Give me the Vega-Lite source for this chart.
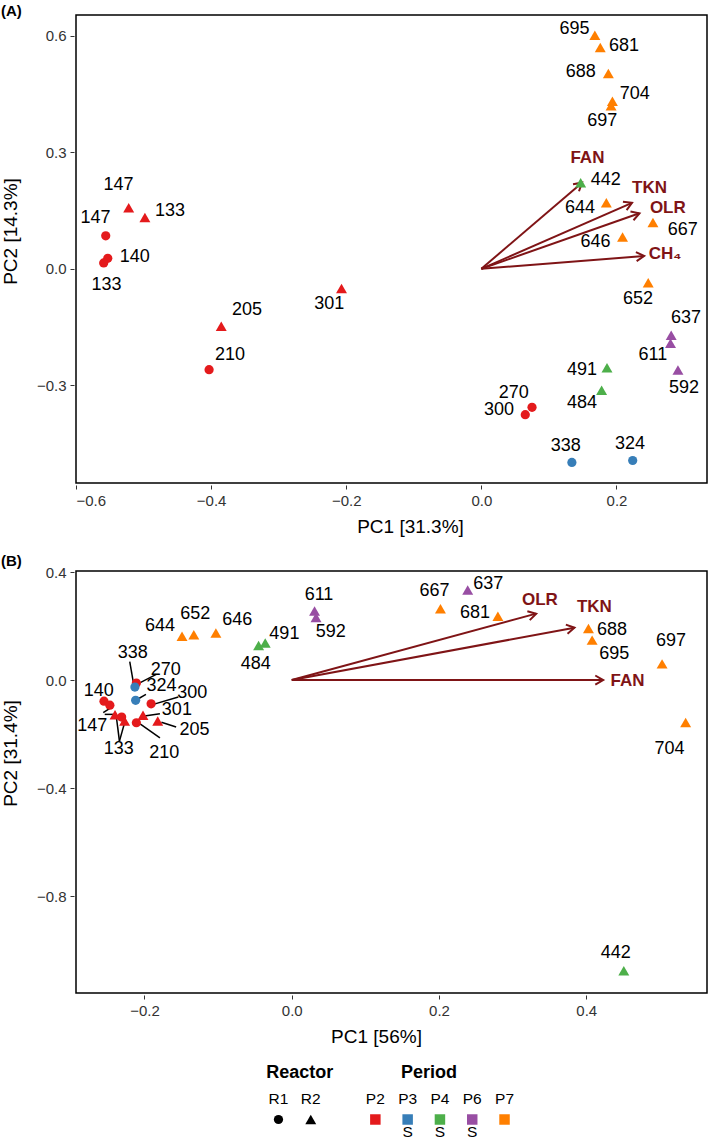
{
  "$schema": "https://vega.github.io/schema/vega-lite/v6.json",
  "padding": {"left": 0, "top": 3, "right": 1, "bottom": 0},
  "background": "white",
  "datasets": {
    "pointsA": [
      {"day": "695", "reactor": "R2", "period": "P7", "x": 0.168, "y": 0.602, "lx": 0.138, "ly": 0.617},
      {"day": "681", "reactor": "R2", "period": "P7", "x": 0.176, "y": 0.570, "lx": 0.211, "ly": 0.573},
      {"day": "688", "reactor": "R2", "period": "P7", "x": 0.188, "y": 0.503, "lx": 0.147, "ly": 0.506},
      {"day": "704", "reactor": "R2", "period": "P7", "x": 0.194, "y": 0.432, "lx": 0.227, "ly": 0.451},
      {"day": "697", "reactor": "R2", "period": "P7", "x": 0.192, "y": 0.420, "lx": 0.179, "ly": 0.381},
      {"day": "442", "reactor": "R2", "period": "P4", "x": 0.147, "y": 0.222, "lx": 0.184, "ly": 0.228},
      {"day": "644", "reactor": "R2", "period": "P7", "x": 0.185, "y": 0.170, "lx": 0.146, "ly": 0.156},
      {"day": "667", "reactor": "R2", "period": "P7", "x": 0.254, "y": 0.119, "lx": 0.298, "ly": 0.100},
      {"day": "646", "reactor": "R2", "period": "P7", "x": 0.209, "y": 0.082, "lx": 0.169, "ly": 0.070},
      {"day": "652", "reactor": "R2", "period": "P7", "x": 0.247, "y": -0.036, "lx": 0.232, "ly": -0.079},
      {"day": "147", "reactor": "R2", "period": "P2", "x": -0.522, "y": 0.157, "lx": -0.537, "ly": 0.215},
      {"day": "133", "reactor": "R2", "period": "P2", "x": -0.498, "y": 0.132, "lx": -0.461, "ly": 0.149},
      {"day": "147", "reactor": "R1", "period": "P2", "x": -0.556, "y": 0.085, "lx": -0.571, "ly": 0.131},
      {"day": "140", "reactor": "R1", "period": "P2", "x": -0.553, "y": 0.027, "lx": -0.513, "ly": 0.030},
      {"day": "133", "reactor": "R1", "period": "P2", "x": -0.559, "y": 0.015, "lx": -0.555, "ly": -0.041},
      {"day": "301", "reactor": "R2", "period": "P2", "x": -0.207, "y": -0.051, "lx": -0.225, "ly": -0.090},
      {"day": "205", "reactor": "R2", "period": "P2", "x": -0.385, "y": -0.148, "lx": -0.347, "ly": -0.105},
      {"day": "210", "reactor": "R1", "period": "P2", "x": -0.403, "y": -0.260, "lx": -0.372, "ly": -0.223},
      {"day": "637", "reactor": "R2", "period": "P6", "x": 0.281, "y": -0.171, "lx": 0.303, "ly": -0.126},
      {"day": "611", "reactor": "R2", "period": "P6", "x": 0.280, "y": -0.192, "lx": 0.254, "ly": -0.223},
      {"day": "592", "reactor": "R2", "period": "P6", "x": 0.291, "y": -0.261, "lx": 0.300, "ly": -0.307},
      {"day": "491", "reactor": "R2", "period": "P4", "x": 0.186, "y": -0.255, "lx": 0.149, "ly": -0.261},
      {"day": "484", "reactor": "R2", "period": "P4", "x": 0.178, "y": -0.313, "lx": 0.149, "ly": -0.346},
      {"day": "270", "reactor": "R1", "period": "P2", "x": 0.075, "y": -0.357, "lx": 0.048, "ly": -0.320},
      {"day": "300", "reactor": "R1", "period": "P2", "x": 0.065, "y": -0.376, "lx": 0.026, "ly": -0.365},
      {"day": "338", "reactor": "R1", "period": "P3", "x": 0.134, "y": -0.499, "lx": 0.125, "ly": -0.456},
      {"day": "324", "reactor": "R1", "period": "P3", "x": 0.224, "y": -0.494, "lx": 0.220, "ly": -0.451}
    ],
    "arrowsA": [
      {"var": "FAN", "x0": 0, "y0": 0, "x": 0.149, "y": 0.222, "lx": 0.157, "ly": 0.286, "angle": -40.6},
      {"var": "TKN", "x0": 0, "y0": 0, "x": 0.223, "y": 0.170, "lx": 0.249, "ly": 0.209, "angle": -23.7},
      {"var": "OLR", "x0": 0, "y0": 0, "x": 0.234, "y": 0.143, "lx": 0.276, "ly": 0.157, "angle": -19.3},
      {"var": "CH₄", "x0": 0, "y0": 0, "x": 0.241, "y": 0.033, "lx": 0.272, "ly": 0.037, "angle": -4.5}
    ],
    "pointsB": [
      {"day": "637", "reactor": "R2", "period": "P6", "x": 0.239, "y": 0.334, "lx": 0.267, "ly": 0.355},
      {"day": "611", "reactor": "R2", "period": "P6", "x": 0.031, "y": 0.256, "lx": 0.037, "ly": 0.315},
      {"day": "592", "reactor": "R2", "period": "P6", "x": 0.033, "y": 0.232, "lx": 0.053, "ly": 0.178},
      {"day": "667", "reactor": "R2", "period": "P7", "x": 0.202, "y": 0.264, "lx": 0.194, "ly": 0.330},
      {"day": "681", "reactor": "R2", "period": "P7", "x": 0.280, "y": 0.236, "lx": 0.249, "ly": 0.248},
      {"day": "688", "reactor": "R2", "period": "P7", "x": 0.403, "y": 0.191, "lx": 0.435, "ly": 0.184},
      {"day": "695", "reactor": "R2", "period": "P7", "x": 0.408, "y": 0.148, "lx": 0.438, "ly": 0.097},
      {"day": "697", "reactor": "R2", "period": "P7", "x": 0.503, "y": 0.060, "lx": 0.515, "ly": 0.144},
      {"day": "704", "reactor": "R2", "period": "P7", "x": 0.535, "y": -0.157, "lx": 0.513, "ly": -0.255},
      {"day": "644", "reactor": "R2", "period": "P7", "x": -0.149, "y": 0.162, "lx": -0.179, "ly": 0.199},
      {"day": "652", "reactor": "R2", "period": "P7", "x": -0.133, "y": 0.168, "lx": -0.131, "ly": 0.244},
      {"day": "646", "reactor": "R2", "period": "P7", "x": -0.103, "y": 0.174, "lx": -0.074, "ly": 0.223},
      {"day": "491", "reactor": "R2", "period": "P4", "x": -0.036, "y": 0.137, "lx": -0.010, "ly": 0.171},
      {"day": "484", "reactor": "R2", "period": "P4", "x": -0.045, "y": 0.128, "lx": -0.049, "ly": 0.060},
      {"day": "442", "reactor": "R2", "period": "P4", "x": 0.451, "y": -1.077, "lx": 0.440, "ly": -1.010},
      {"day": "270", "reactor": "R1", "period": "P2", "x": -0.211, "y": -0.011, "lx": -0.171, "ly": 0.036},
      {"day": "338", "reactor": "R1", "period": "P3", "x": -0.213, "y": -0.026, "lx": -0.216, "ly": 0.101},
      {"day": "324", "reactor": "R1", "period": "P3", "x": -0.212, "y": -0.075, "lx": -0.177, "ly": -0.022},
      {"day": "140", "reactor": "R1", "period": "P2", "x": -0.255, "y": -0.078, "lx": -0.262, "ly": -0.041},
      {"day": "147", "reactor": "R1", "period": "P2", "x": -0.247, "y": -0.093, "lx": -0.271, "ly": -0.170},
      {"day": "300", "reactor": "R1", "period": "P2", "x": -0.191, "y": -0.088, "lx": -0.135, "ly": -0.047},
      {"day": "147", "reactor": "R2", "period": "P2", "x": -0.240, "y": -0.128},
      {"day": "133", "reactor": "R1", "period": "P2", "x": -0.231, "y": -0.137},
      {"day": "133", "reactor": "R2", "period": "P2", "x": -0.227, "y": -0.152, "lx": -0.235, "ly": -0.257},
      {"day": "210", "reactor": "R1", "period": "P2", "x": -0.211, "y": -0.158, "lx": -0.173, "ly": -0.269},
      {"day": "301", "reactor": "R2", "period": "P2", "x": -0.202, "y": -0.130, "lx": -0.156, "ly": -0.112},
      {"day": "205", "reactor": "R2", "period": "P2", "x": -0.182, "y": -0.152, "lx": -0.132, "ly": -0.186}
    ],
    "arrowsB": [
      {"var": "OLR", "x0": 0, "y0": 0, "x": 0.332, "y": 0.246, "lx": 0.337, "ly": 0.295, "angle": -15.2},
      {"var": "TKN", "x0": 0, "y0": 0, "x": 0.384, "y": 0.194, "lx": 0.411, "ly": 0.270, "angle": -10.5},
      {"var": "FAN", "x0": 0, "y0": 0, "x": 0.423, "y": 0.0, "lx": 0.456, "ly": -0.004, "angle": 0}
    ],
    "segB": [
      {"day": "338", "sx": -0.220, "sy": 0.068, "ex": -0.215, "ey": -0.010},
      {"day": "270", "sx": -0.184, "sy": 0.021, "ex": -0.209, "ey": -0.014},
      {"day": "324", "sx": -0.198, "sy": -0.053, "ex": -0.210, "ey": -0.072},
      {"day": "300", "sx": -0.154, "sy": -0.063, "ex": -0.188, "ey": -0.090},
      {"day": "147", "sx": -0.256, "sy": -0.121, "ex": -0.246, "ey": -0.103},
      {"day": "147", "sx": -0.254, "sy": -0.127, "ex": -0.238, "ey": -0.127},
      {"day": "133", "sx": -0.234, "sy": -0.226, "ex": -0.238, "ey": -0.140},
      {"day": "133", "sx": -0.234, "sy": -0.226, "ex": -0.227, "ey": -0.158},
      {"day": "210", "sx": -0.179, "sy": -0.214, "ex": -0.206, "ey": -0.162},
      {"day": "301", "sx": -0.179, "sy": -0.125, "ex": -0.200, "ey": -0.133},
      {"day": "205", "sx": -0.157, "sy": -0.174, "ex": -0.177, "ey": -0.156}
    ],
    "legendItems": [
      {"slot": "R1", "reactor": "R1"},
      {"slot": "R2", "reactor": "R2"},
      {"slot": "P2", "period": "P2"},
      {"slot": "P3", "period": "P3", "note": "S"},
      {"slot": "P4", "period": "P4", "note": "S"},
      {"slot": "P6", "period": "P6", "note": "S"},
      {"slot": "P7", "period": "P7"}
    ],
    "legendTitles": [
      {"slot": "R2", "text": "Reactor"},
      {"slot": "P4", "text": "Period"}
    ]
  },
  "vconcat": [
    {
      "width": 631,
      "height": 468,
      "title": {"text": "(A)", "anchor": "start", "frame": "bounds", "fontSize": 15, "fontWeight": "bold", "offset": -4, "dx": 0},
      "layer": [
        {
          "data": {"name": "arrowsA"},
          "mark": {"type": "rule", "color": "#7f1416", "strokeWidth": 2},
          "encoding": {
            "x": {"field": "x0", "type": "quantitative", "title": "PC1 [31.3%]", "scale": {"domain": [-0.6, 0.334], "nice": false, "zero": false},
              "axis": {"values": [-0.6, -0.4, -0.2, 0, 0.2], "format": ".1f", "titleX": 334}},
            "y": {"field": "y0", "type": "quantitative", "title": "PC2 [14.3%]", "scale": {"domain": [-0.552, 0.654], "nice": false, "zero": false},
              "axis": {"values": [-0.3, 0, 0.3, 0.6], "format": ".1f", "minExtent": 45, "maxExtent": 45, "titleY": 216}},
            "x2": {"field": "x"},
            "y2": {"field": "y"}
          }
        },
        {
          "data": {"name": "arrowsA"},
          "mark": {"type": "point", "shape": "M-1,-0.58L0,0L-1,0.58", "filled": false, "size": 250, "strokeWidth": 2, "color": "#7f1416", "opacity": 1},
          "encoding": {
            "x": {"field": "x", "type": "quantitative", "title": "PC1 [31.3%]", "scale": {"domain": [-0.6, 0.334], "nice": false, "zero": false}},
            "y": {"field": "y", "type": "quantitative", "title": "PC2 [14.3%]", "scale": {"domain": [-0.552, 0.654], "nice": false, "zero": false}},
            "angle": {"field": "angle", "type": "quantitative", "scale": null}
          }
        },
        {
          "data": {"name": "arrowsA"},
          "mark": {"type": "text", "fontWeight": "bold", "fontSize": 17, "color": "#7f1416", "align": "center", "baseline": "middle"},
          "encoding": {
            "x": {"field": "lx", "type": "quantitative", "title": "PC1 [31.3%]", "scale": {"domain": [-0.6, 0.334], "nice": false, "zero": false}},
            "y": {"field": "ly", "type": "quantitative", "title": "PC2 [14.3%]", "scale": {"domain": [-0.552, 0.654], "nice": false, "zero": false}},
            "text": {"field": "var"}
          }
        },
        {
          "data": {"name": "pointsA"},
          "mark": {"type": "point", "filled": true, "opacity": 1, "strokeWidth": 0},
          "encoding": {
            "x": {"field": "x", "type": "quantitative", "title": "PC1 [31.3%]", "scale": {"domain": [-0.6, 0.334], "nice": false, "zero": false}},
            "y": {"field": "y", "type": "quantitative", "title": "PC2 [14.3%]", "scale": {"domain": [-0.552, 0.654], "nice": false, "zero": false}},
            "color": {"field": "period", "type": "nominal", "legend": null, "scale": {"domain": ["P2", "P3", "P4", "P6", "P7"], "range": ["#e41a1c", "#377eb8", "#4daf4a", "#984ea3", "#ff7f00"]}},
            "shape": {"field": "reactor", "type": "nominal", "legend": null, "scale": {"domain": ["R1", "R2"], "range": ["circle", "triangle-up"]}},
            "size": {"field": "reactor", "type": "ordinal", "legend": null, "scale": {"domain": ["R1", "R2"], "range": [85, 120]}}
          }
        },
        {
          "data": {"name": "pointsA"},
          "mark": {"type": "text", "fontSize": 18, "color": "black", "align": "center", "baseline": "middle"},
          "encoding": {
            "x": {"field": "lx", "type": "quantitative", "title": "PC1 [31.3%]", "scale": {"domain": [-0.6, 0.334], "nice": false, "zero": false}},
            "y": {"field": "ly", "type": "quantitative", "title": "PC2 [14.3%]", "scale": {"domain": [-0.552, 0.654], "nice": false, "zero": false}},
            "text": {"field": "day"}
          }
        }
      ]
    },
    {
      "width": 631,
      "height": 422,
      "title": {"text": "(B)", "anchor": "start", "frame": "bounds", "fontSize": 15, "fontWeight": "bold", "offset": -4, "dx": 0},
      "layer": [
        {
          "data": {"name": "segB"},
          "mark": {"type": "rule", "color": "black", "strokeWidth": 1.5},
          "encoding": {
            "x": {"field": "sx", "type": "quantitative", "title": "PC1 [56%]", "scale": {"domain": [-0.293, 0.564], "nice": false, "zero": false},
              "axis": {"values": [-0.2, 0, 0.2, 0.4], "format": ".1f", "titleX": 300}},
            "y": {"field": "sy", "type": "quantitative", "title": "PC2 [31.4%]", "scale": {"domain": [-1.159, 0.404], "nice": false, "zero": false},
              "axis": {"values": [-0.8, -0.4, 0, 0.4], "format": ".1f", "minExtent": 45, "maxExtent": 45, "titleY": 182}},
            "x2": {"field": "ex"},
            "y2": {"field": "ey"}
          }
        },
        {
          "data": {"name": "arrowsB"},
          "mark": {"type": "rule", "color": "#7f1416", "strokeWidth": 2},
          "encoding": {
            "x": {"field": "x0", "type": "quantitative", "title": "PC1 [56%]", "scale": {"domain": [-0.293, 0.564], "nice": false, "zero": false}},
            "y": {"field": "y0", "type": "quantitative", "title": "PC2 [31.4%]", "scale": {"domain": [-1.159, 0.404], "nice": false, "zero": false}},
            "x2": {"field": "x"},
            "y2": {"field": "y"}
          }
        },
        {
          "data": {"name": "arrowsB"},
          "mark": {"type": "point", "shape": "M-1,-0.58L0,0L-1,0.58", "filled": false, "size": 250, "strokeWidth": 2, "color": "#7f1416", "opacity": 1},
          "encoding": {
            "x": {"field": "x", "type": "quantitative", "title": "PC1 [56%]", "scale": {"domain": [-0.293, 0.564], "nice": false, "zero": false}},
            "y": {"field": "y", "type": "quantitative", "title": "PC2 [31.4%]", "scale": {"domain": [-1.159, 0.404], "nice": false, "zero": false}},
            "angle": {"field": "angle", "type": "quantitative", "scale": null}
          }
        },
        {
          "data": {"name": "arrowsB"},
          "mark": {"type": "text", "fontWeight": "bold", "fontSize": 17, "color": "#7f1416", "align": "center", "baseline": "middle"},
          "encoding": {
            "x": {"field": "lx", "type": "quantitative", "title": "PC1 [56%]", "scale": {"domain": [-0.293, 0.564], "nice": false, "zero": false}},
            "y": {"field": "ly", "type": "quantitative", "title": "PC2 [31.4%]", "scale": {"domain": [-1.159, 0.404], "nice": false, "zero": false}},
            "text": {"field": "var"}
          }
        },
        {
          "data": {"name": "pointsB"},
          "mark": {"type": "point", "filled": true, "opacity": 1, "strokeWidth": 0},
          "encoding": {
            "x": {"field": "x", "type": "quantitative", "title": "PC1 [56%]", "scale": {"domain": [-0.293, 0.564], "nice": false, "zero": false}},
            "y": {"field": "y", "type": "quantitative", "title": "PC2 [31.4%]", "scale": {"domain": [-1.159, 0.404], "nice": false, "zero": false}},
            "color": {"field": "period", "type": "nominal", "legend": null, "scale": {"domain": ["P2", "P3", "P4", "P6", "P7"], "range": ["#e41a1c", "#377eb8", "#4daf4a", "#984ea3", "#ff7f00"]}},
            "shape": {"field": "reactor", "type": "nominal", "legend": null, "scale": {"domain": ["R1", "R2"], "range": ["circle", "triangle-up"]}},
            "size": {"field": "reactor", "type": "ordinal", "legend": null, "scale": {"domain": ["R1", "R2"], "range": [85, 120]}}
          }
        },
        {
          "data": {"name": "pointsB"},
          "mark": {"type": "text", "fontSize": 18, "color": "black", "align": "center", "baseline": "middle"},
          "encoding": {
            "x": {"field": "lx", "type": "quantitative", "title": "PC1 [56%]", "scale": {"domain": [-0.293, 0.564], "nice": false, "zero": false}},
            "y": {"field": "ly", "type": "quantitative", "title": "PC2 [31.4%]", "scale": {"domain": [-1.159, 0.404], "nice": false, "zero": false}},
            "text": {"field": "day"}
          }
        }
      ]
    },
    {
      "width": 631,
      "height": 80,
      "view": {"stroke": null},
      "layer": [
        {
          "data": {"name": "legendTitles"},
          "mark": {"type": "text", "fontSize": 18, "fontWeight": "bold", "color": "black", "align": "center", "baseline": "middle", "dx": -11, "dy": -5},
          "encoding": {
            "x": {"field": "slot", "type": "nominal", "axis": null, "scale": {"type": "point", "domain": ["_a1", "_a2", "_a3", "_a4", "_a5", "_a6", "R1", "R2", "gap", "P2", "P3", "P4", "P6", "P7", "_b1", "_b2", "_b3", "_b4", "_b5", "_b6"], "padding": 0.27}},
            "y": {"datum": "title", "type": "nominal", "axis": null, "scale": {"type": "point", "domain": ["title", "label", "symbol", "note"], "padding": 0.405}},
            "text": {"field": "text"}
          }
        },
        {
          "data": {"name": "legendItems"},
          "mark": {"type": "text", "fontSize": 15.5, "color": "black", "align": "center", "baseline": "middle"},
          "encoding": {
            "x": {"field": "slot", "type": "nominal", "axis": null, "scale": {"type": "point", "domain": ["_a1", "_a2", "_a3", "_a4", "_a5", "_a6", "R1", "R2", "gap", "P2", "P3", "P4", "P6", "P7", "_b1", "_b2", "_b3", "_b4", "_b5", "_b6"], "padding": 0.27}},
            "y": {"datum": "label", "type": "nominal", "axis": null, "scale": {"type": "point", "domain": ["title", "label", "symbol", "note"], "padding": 0.405}},
            "text": {"field": "slot"}
          }
        },
        {
          "data": {"name": "legendItems"},
          "transform": [{"filter": "datum.reactor != null"}],
          "mark": {"type": "point", "filled": true, "opacity": 1, "color": "black", "strokeWidth": 0},
          "encoding": {
            "x": {"field": "slot", "type": "nominal", "axis": null, "scale": {"type": "point", "domain": ["_a1", "_a2", "_a3", "_a4", "_a5", "_a6", "R1", "R2", "gap", "P2", "P3", "P4", "P6", "P7", "_b1", "_b2", "_b3", "_b4", "_b5", "_b6"], "padding": 0.27}},
            "y": {"datum": "symbol", "type": "nominal", "axis": null, "scale": {"type": "point", "domain": ["title", "label", "symbol", "note"], "padding": 0.405}},
            "shape": {"field": "reactor", "type": "nominal", "legend": null, "scale": {"domain": ["R1", "R2"], "range": ["circle", "triangle-up"]}},
            "size": {"field": "reactor", "type": "ordinal", "legend": null, "scale": {"domain": ["R1", "R2"], "range": [85, 120]}}
          }
        },
        {
          "data": {"name": "legendItems"},
          "transform": [{"filter": "datum.period != null"}],
          "mark": {"type": "point", "filled": true, "opacity": 1, "shape": "square", "size": 110, "strokeWidth": 0},
          "encoding": {
            "x": {"field": "slot", "type": "nominal", "axis": null, "scale": {"type": "point", "domain": ["_a1", "_a2", "_a3", "_a4", "_a5", "_a6", "R1", "R2", "gap", "P2", "P3", "P4", "P6", "P7", "_b1", "_b2", "_b3", "_b4", "_b5", "_b6"], "padding": 0.27}},
            "y": {"datum": "symbol", "type": "nominal", "axis": null, "scale": {"type": "point", "domain": ["title", "label", "symbol", "note"], "padding": 0.405}},
            "color": {"field": "period", "type": "nominal", "legend": null, "scale": {"domain": ["P2", "P3", "P4", "P6", "P7"], "range": ["#e41a1c", "#377eb8", "#4daf4a", "#984ea3", "#ff7f00"]}}
          }
        },
        {
          "data": {"name": "legendItems"},
          "transform": [{"filter": "datum.note != null"}],
          "mark": {"type": "text", "fontSize": 15.5, "color": "black", "align": "center", "baseline": "middle", "dy": -8},
          "encoding": {
            "x": {"field": "slot", "type": "nominal", "axis": null, "scale": {"type": "point", "domain": ["_a1", "_a2", "_a3", "_a4", "_a5", "_a6", "R1", "R2", "gap", "P2", "P3", "P4", "P6", "P7", "_b1", "_b2", "_b3", "_b4", "_b5", "_b6"], "padding": 0.27}},
            "y": {"datum": "note", "type": "nominal", "axis": null, "scale": {"type": "point", "domain": ["title", "label", "symbol", "note"], "padding": 0.405}},
            "text": {"field": "note"}
          }
        }
      ]
    }
  ],
  "resolve": {"scale": {"x": "independent", "y": "independent", "color": "shared", "shape": "shared", "size": "shared"}},
  "config": {
    "font": "Liberation Sans",
    "view": {"stroke": "black", "strokeWidth": 1.5},
    "concat": {"spacing": 16},
    "axis": {
      "domain": false,
      "grid": false,
      "ticks": true,
      "tickColor": "#333333",
      "tickSize": 4,
      "tickWidth": 1,
      "offset": 2,
      "labelFont": "Liberation Sans",
      "labelFontSize": 15,
      "labelColor": "#333333",
      "labelPadding": 4,
      "titleFont": "Liberation Sans",
      "titleFontSize": 19,
      "titleFontWeight": "normal",
      "titleColor": "black",
      "titlePadding": 9
    },
    "title": {"font": "Liberation Sans", "color": "black"}
  }
}
